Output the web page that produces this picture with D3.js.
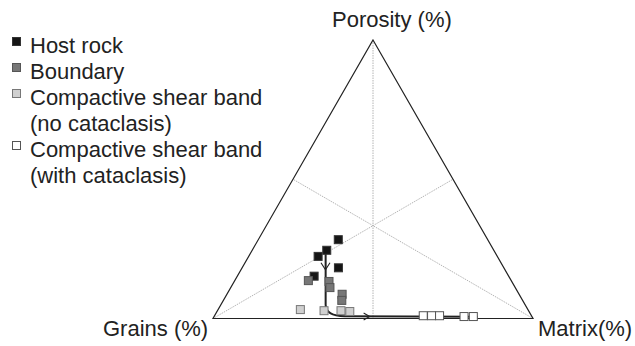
<!DOCTYPE html>
<html>
<head>
<meta charset="utf-8">
<script src="https://cdn.jsdelivr.net/npm/d3@7/dist/d3.min.js"></script>
<style>
  html, body { margin: 0; padding: 0; background: #fff; }
  svg { display: block; font-family: "Liberation Sans", Arial, sans-serif; }
</style>
</head>
<body>
<svg id="chart" width="635" height="346"></svg>
<script>
// Ternary composition: porosity (apex), grains (lower left), matrix (lower right), in %
const hostRock = [
  { porosity: 28.3, matrix: 25.0 },
  { porosity: 24.5, matrix: 23.3 },
  { porosity: 22.3, matrix: 21.7 },
  { porosity: 18.2, matrix: 30.1 },
  { porosity: 15.2, matrix: 24.0 }
];
const boundary = [
  { porosity: 13.6, matrix: 23.0 },
  { porosity: 13.3, matrix: 29.6 },
  { porosity: 11.1, matrix: 31.0 },
  { porosity: 8.7,  matrix: 36.0 },
  { porosity: 6.5,  matrix: 37.0 }
];
const bandNoCataclasis = [
  { porosity: 3.2, matrix: 25.7 },
  { porosity: 2.8, matrix: 33.3 },
  { porosity: 2.8, matrix: 38.6 },
  { porosity: 2.5, matrix: 41.5 }
];
const bandWithCataclasis = [
  { porosity: 1.0, matrix: 65.2 },
  { porosity: 1.0, matrix: 67.8 },
  { porosity: 1.0, matrix: 70.3 },
  { porosity: 0.7, matrix: 78.1 },
  { porosity: 0.7, matrix: 81.0 }
];
// Evolution trend: compaction (straight run), bend, then cataclasis along the base
const trendStart = { porosity: 25.4, matrix: 22.5 };
const trendBendStart = { porosity: 5.0, matrix: 32.7 };
const trendBendCorner = { porosity: 0.9, matrix: 34.7 };
const trendBendEnd = { porosity: 0.8, matrix: 40.8 };
const trendEnd = { porosity: 0.6, matrix: 82.4 };
const trendArrows = [
  { porosity: 17.5, matrix: 26.4, dir: "down" },
  { porosity: 0.7,  matrix: 48.6, dir: "right" }
];
const axisLabels = { top: "Porosity (%)", left: "Grains (%)", right: "Matrix(%)" };
const legendLabels = [
  ["Host rock"],
  ["Boundary"],
  ["Compactive shear band", "(no cataclasis)"],
  ["Compactive shear band", "(with cataclasis)"]
];

const svg = d3.select("#chart");
const ink = "#222";

// Barycentric layout: porosity sets height, matrix + porosity/2 sets position along the base
const base = d3.scaleLinear().domain([0, 100]).range([213, 533]);
const height = d3.scaleLinear().domain([0, 100]).range([318.5, 40]);
const px = d => base(d.matrix + d.porosity / 2);
const py = d => height(d.porosity);

const apex = { porosity: 100, matrix: 0 };
const grainsCorner = { porosity: 0, matrix: 0 };
const matrixCorner = { porosity: 0, matrix: 100 };

// Medians through the centre
const medians = [
  [apex, { porosity: 0, matrix: 50 }],
  [grainsCorner, { porosity: 50, matrix: 50 }],
  [matrixCorner, { porosity: 50, matrix: 0 }]
];
svg.append("g").selectAll("line").data(medians).join("line")
  .attr("x1", d => px(d[0])).attr("y1", d => py(d[0]))
  .attr("x2", d => px(d[1])).attr("y2", d => py(d[1]))
  .attr("stroke", "#b4b4b4").attr("stroke-width", 1)
  .attr("stroke-dasharray", "1.5,1");

// Triangle frame
svg.append("path")
  .attr("d", d3.line().x(px).y(py)([apex, matrixCorner, grainsCorner]) + "Z")
  .attr("fill", "none").attr("stroke", ink).attr("stroke-width", 1.2);

// Trend line
const trend = d3.path();
trend.moveTo(px(trendStart), py(trendStart));
trend.lineTo(px(trendBendStart), py(trendBendStart));
trend.quadraticCurveTo(px(trendBendCorner), py(trendBendCorner), px(trendBendEnd), py(trendBendEnd));
trend.lineTo(px(trendEnd), py(trendEnd));
svg.append("path")
  .attr("d", trend.toString())
  .attr("fill", "none").attr("stroke", ink).attr("stroke-width", 2);

svg.append("g").selectAll("path").data(trendArrows).join("path")
  .attr("d", d => {
    const x = px(d), y = py(d);
    return d.dir === "down"
      ? `M${x - 4.5},${y - 7}L${x},${y}L${x + 4.5},${y - 7}`
      : `M${x - 6},${y - 3.5}L${x},${y}L${x - 6},${y + 3.5}`;
  })
  .attr("fill", "none").attr("stroke", ink).attr("stroke-width", 1.1);

// Sample groups
const groups = [
  { data: hostRock, fill: "#151515", stroke: "#333" },
  { data: boundary, fill: "#777", stroke: "#555" },
  { data: bandNoCataclasis, fill: "#d0d0d0", stroke: "#777" },
  { data: bandWithCataclasis, fill: "#fff", stroke: "#555" }
];
const size = 8;
groups.forEach(g => {
  svg.append("g").selectAll("rect").data(g.data).join("rect")
    .attr("x", d => px(d) - size / 2).attr("y", d => py(d) - size / 2)
    .attr("width", size).attr("height", size)
    .attr("fill", g.fill).attr("stroke", g.stroke).attr("stroke-width", 1);
});

// Corner labels
const labelStyle = sel => sel.attr("font-size", 22).attr("fill", ink);
svg.append("text").text(axisLabels.top).attr("x", 332).attr("y", 27).call(labelStyle);
svg.append("text").text(axisLabels.left).attr("x", 103).attr("y", 336).call(labelStyle);
svg.append("text").text(axisLabels.right).attr("x", 538).attr("y", 336).call(labelStyle);

// Legend
const legendRows = [45, 71, 97, 149];
const legend = svg.append("g");
legendLabels.forEach((lines, i) => {
  const g = groups[i];
  const top = legendRows[i];
  legend.append("rect")
    .attr("x", 12.5).attr("y", top - 7.5).attr("width", 8).attr("height", 8)
    .attr("fill", g.fill).attr("stroke", g.stroke).attr("stroke-width", 1);
  lines.forEach((t, j) => {
    legend.append("text").text(t)
      .attr("x", 30).attr("y", top + 8 + j * 26).call(labelStyle);
  });
});
</script>
</body>
</html>
